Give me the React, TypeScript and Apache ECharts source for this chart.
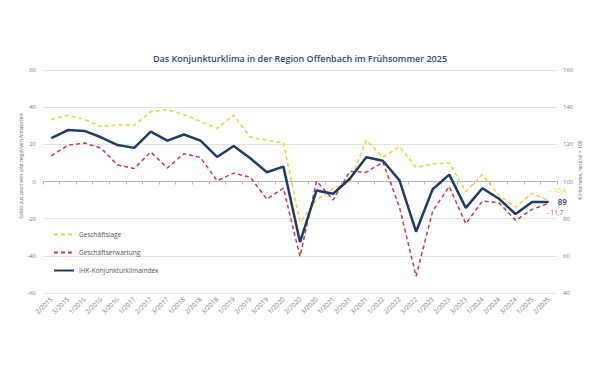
import React, { useEffect, useRef } from "react";
import * as echarts from "echarts";

const categories = [
  "2/2015", "3/2015", "1/2016", "2/2016", "3/2016", "1/2017", "2/2017", "3/2017",
  "1/2018", "2/2018", "3/2018", "1/2019", "2/2019", "3/2019", "1/2020", "2/2020",
  "3/2020", "1/2021", "2/2021", "3/2021", "1/2022", "2/2022", "3/2022", "1/2023",
  "2/2023", "3/2023", "1/2024", "2/2024", "3/2024", "1/2025", "2/2025",
];

// Saldo (left axis)
const geschaeftslage = [
  33.4, 35.7, 33.4, 29.6, 30.5, 30.2, 37.5, 38.6, 36, 32.3, 28.6, 35.7, 23.9, 22.1, 20.9,
  -22, -10, -3.8, -0.5, 22.3, 13, 18.8, 7.6, 9.5, 10, -5.4, 3.8, -7.5, -13.8, -6.3, -10.4,
];
const geschaeftserwartung = [
  13.8, 19.5, 20.7, 17.9, 8.9, 7, 15.9, 7.3, 15, 12.9, 0.4, 4.5, 2.3, -9.5, -3.6,
  -40.3, 0.2, -9.9, 5.4, 5, 10.4, -13.8, -51, -16, -2.7, -22.7, -10.5, -11.4, -20.9, -15, -11.7,
];
// Klimaindex (right axis, neutral = 100)
const klimaindex = [
  123.3, 127.7, 127.2, 123.8, 119.6, 118.1, 126.8, 122, 125.3, 122, 113.2, 119.1, 112.5, 105, 108,
  67.4, 95.2, 93.4, 101.5, 113, 111.2, 100.6, 73, 95.8, 103.7, 85.8, 96.4, 90.7, 82.5, 89, 89,
];

const leftTicks = { min: -60, max: 60, interval: 20 };
const rightTicks = { min: 40, max: 160, interval: 20 };

const title = "Das Konjunkturklima in der Region Offenbach im Frühsommer 2025";
const leftName = "Saldo aus positiven und negativen Antworten";
const rightName = "Klimaindex, neutral = 100";

const FONT = "'Open Sans', 'Noto Sans', sans-serif";
const YELLOW = "#f1d12a";
const RED = "#d2344f";
const NAVY = "#1c3d6c";
const GREY = "#7a7a7a";

const fmtSaldo = (p: any) => {
  const v = Array.isArray(p.value) ? p.value[p.value.length - 1] : p.value;
  return "- " + Math.abs(v).toFixed(1).replace(".", ",");
};

export default function App() {
  const ref = useRef<HTMLDivElement>(null);
  useEffect(() => {
    document.body.style.margin = "0";
    const chart = echarts.init(ref.current!, undefined, { renderer: "svg" });
    chart.setOption({
      animation: false,
      backgroundColor: "#ffffff",
      textStyle: { fontFamily: FONT },
      title: {
        text: title,
        left: "center",
        top: 49,
        textStyle: { fontSize: 9, fontWeight: 600, color: "#2b4a7c", fontFamily: FONT },
      },
      grid: { left: 43, right: 43, top: 70, bottom: 92 },
      legend: {
        orient: "vertical",
        left: 48,
        top: 226,
        itemWidth: 20,
        itemHeight: 8,
        itemGap: 11,
        itemStyle: { opacity: 0, borderWidth: 0 },
        textStyle: { fontSize: 6.5, color: "#555", fontFamily: FONT },
        data: ["Geschäftslage", "Geschäftserwartung", "IHK-Konjunkturklimaindex"],
      },
      xAxis: {
        type: "category",
        data: categories,
        boundaryGap: true,
        axisLine: { lineStyle: { color: "#b5b5b5", width: 1 } },
        axisTick: { show: true, length: 3, lineStyle: { color: "#b5b5b5" } },
        axisLabel: { rotate: 45, fontSize: 6.5, color: GREY, margin: 5, interval: 0 },
      },
      yAxis: [
        {
          type: "value",
          ...leftTicks,
          axisLine: { show: false },
          axisTick: { show: false },
          axisLabel: { fontSize: 6, color: GREY, margin: 7 },
          splitLine: { lineStyle: { color: "#e2e2e2", width: 1 } },
        },
        {
          type: "value",
          ...rightTicks,
          position: "right",
          axisLine: { show: false, lineStyle: { color: GREY } },
          axisTick: { show: false },
          axisLabel: { fontSize: 6, color: GREY, margin: 6 },
          splitLine: { show: false },
        },
      ],
      graphic: [
        {
          type: "text",
          x: 21,
          y: 166,
          rotation: Math.PI / 2,
          style: {
            text: leftName,
            fontSize: 5,
            fill: "#666",
            fontFamily: FONT,
            textAlign: "center",
            textVerticalAlign: "middle",
          },
        },
        {
          type: "text",
          x: 580,
          y: 170,
          rotation: Math.PI / 2,
          style: {
            text: rightName,
            fontSize: 5,
            fill: "#666",
            fontFamily: FONT,
            textAlign: "center",
            textVerticalAlign: "middle",
          },
        },
      ],
      series: [
        {
          name: "Geschäftslage",
          type: "line",
          data: geschaeftslage,
          yAxisIndex: 0,
          symbol: "none",
          lineStyle: { color: YELLOW, width: 1.5, type: [4, 3] },
          itemStyle: { color: YELLOW },
          endLabel: {
            show: true,
            formatter: fmtSaldo,
            fontSize: 6.5,
            color: YELLOW,
            offset: [-7, -10],
          },
          z: 2,
        },
        {
          name: "Geschäftserwartung",
          type: "line",
          data: geschaeftserwartung,
          yAxisIndex: 0,
          symbol: "none",
          lineStyle: { color: RED, width: 1.5, type: [4, 3] },
          itemStyle: { color: RED },
          endLabel: {
            show: true,
            formatter: fmtSaldo,
            fontSize: 6.5,
            color: RED,
            offset: [-10, 9],
          },
          z: 3,
        },
        {
          name: "IHK-Konjunkturklimaindex",
          type: "line",
          data: klimaindex,
          yAxisIndex: 1,
          symbol: "none",
          lineStyle: { color: NAVY, width: 2.5 },
          itemStyle: { color: NAVY },
          endLabel: {
            show: true,
            formatter: (p: any) => String(Math.round(Array.isArray(p.value) ? p.value[1] : p.value)),
            fontSize: 8,
            fontWeight: 600,
            color: NAVY,
            offset: [1, 0],
          },
          z: 4,
        },
      ],
    });
    return () => chart.dispose();
  }, []);
  return <div ref={ref} style={{ width: 600, height: 385 }} />;
}
